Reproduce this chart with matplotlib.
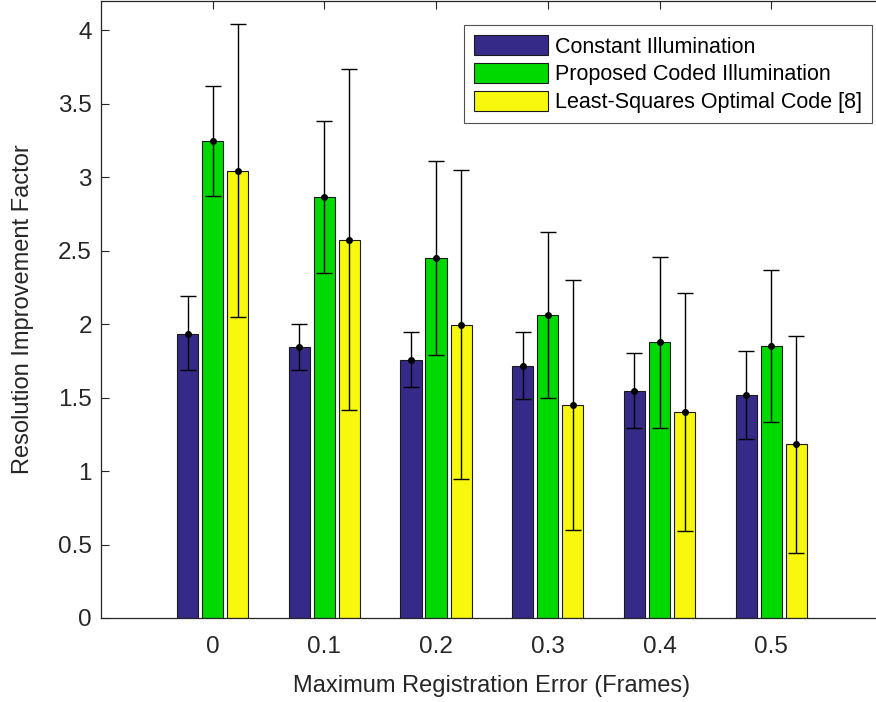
import matplotlib.pyplot as plt
import numpy as np

plt.rcParams['font.family'] = ['Liberation Sans', 'DejaVu Sans']

# data
errors = ['0', '0.1', '0.2', '0.3', '0.4', '0.5']
series = ['Constant Illumination', 'Proposed Coded Illumination',
          'Least-Squares Optimal Code [8]']

constant = [1.935, 1.842, 1.758, 1.715, 1.547, 1.518]
constant_lo = [1.688, 1.690, 1.569, 1.488, 1.290, 1.218]
constant_hi = [2.190, 1.999, 1.949, 1.944, 1.806, 1.819]

coded = [3.244, 2.864, 2.449, 2.065, 1.876, 1.849]
coded_lo = [2.870, 2.350, 1.787, 1.499, 1.290, 1.331]
coded_hi = [3.620, 3.380, 3.107, 2.630, 2.460, 2.367]

lsq = [3.044, 2.574, 1.997, 1.451, 1.404, 1.181]
lsq_lo = [2.046, 1.413, 0.947, 0.602, 0.593, 0.445]
lsq_hi = [4.040, 3.736, 3.048, 2.303, 2.215, 1.917]

colors = ['#352a87', '#00d900', '#f8f80e']

fig = plt.figure(figsize=(8.76, 7.02), dpi=100)
ax = fig.add_axes([0.1153, 0.1197, 0.8926, 0.8790])

x = np.arange(1, len(errors) + 1)
width = 0.19
offset = 0.224

vals = [constant, coded, lsq]
los = [constant_lo, coded_lo, lsq_lo]
his = [constant_hi, coded_hi, lsq_hi]

for i in range(3):
    pos = x + (i - 1) * offset
    v = np.array(vals[i])
    ax.bar(pos, v, width, color=colors[i], edgecolor='#1a1a1a', linewidth=0.8,
           label=series[i], zorder=2)
    yerr = [v - np.array(los[i]), np.array(his[i]) - v]
    ax.errorbar(pos, v, yerr=yerr, fmt='o', color='black', markersize=4,
                elinewidth=1.0, capsize=5.5, capthick=1.0, zorder=3)

ax.set_xlim(0, 7)
ax.set_ylim(0, 4.2)
ax.set_xticks(x)
ax.set_xticklabels(errors)
ax.set_yticks([0, 0.5, 1, 1.5, 2, 2.5, 3, 3.5, 4])
ax.set_yticklabels(['0', '0.5', '1', '1.5', '2', '2.5', '3', '3.5', '4'])
ax.tick_params(direction='in', top=True, right=False, labelsize=17.5,
               colors='#262626', length=6, width=0.8)
ax.tick_params(axis='x', pad=13)
ax.tick_params(axis='y', pad=6.5)
for s in ax.spines.values():
    s.set_color('#262626')
    s.set_linewidth(0.9)

ax.set_xlabel('Maximum Registration Error (Frames)', fontsize=17,
              color='#262626', labelpad=12)
ax.set_ylabel('Resolution Improvement Factor', fontsize=17,
              color='#262626', labelpad=17)

leg = ax.legend(loc='upper right', bbox_to_anchor=(0.986, 0.961), fontsize=15.5,
                frameon=True, fancybox=False, edgecolor='#262626',
                handlelength=3.4, handleheight=1.05, labelspacing=0.25,
                borderpad=0.48, handletextpad=0.33, borderaxespad=0)
leg.get_frame().set_linewidth(0.8)

fig.savefig('out.png', dpi=100)
